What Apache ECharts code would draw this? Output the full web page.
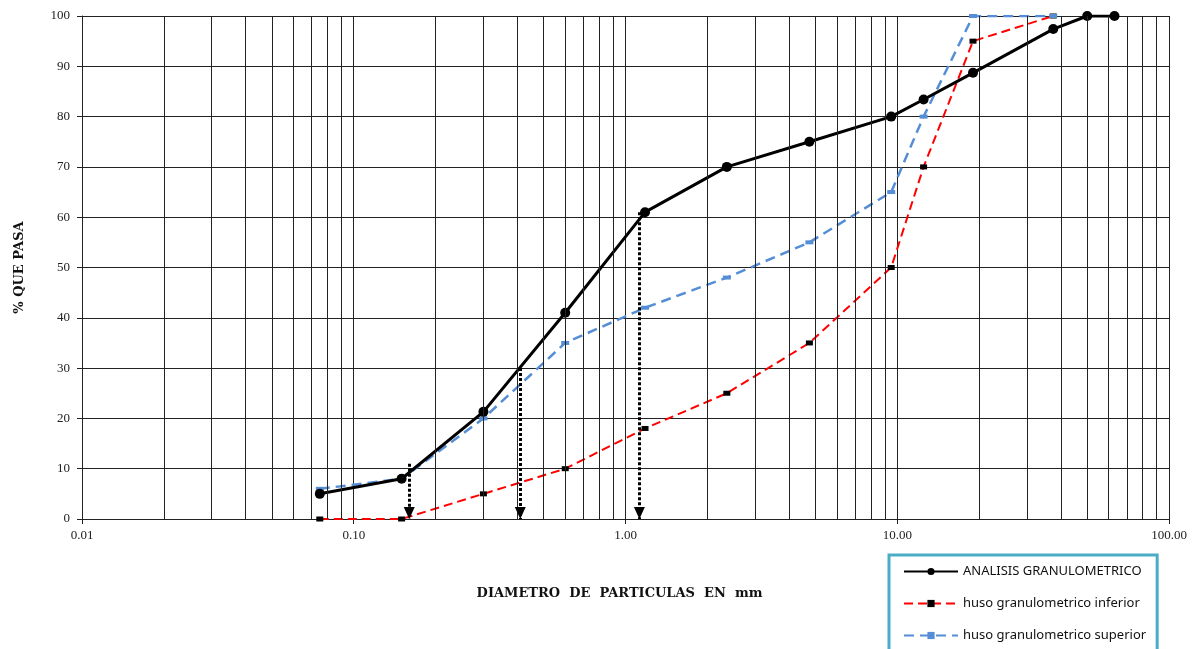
<!DOCTYPE html>
<html><head><meta charset="utf-8">
<script src="https://cdn.jsdelivr.net/npm/echarts@6/dist/echarts.min.js"></script>
<style>html,body{margin:0;padding:0;background:#fff}#c{width:1199px;height:649px}</style>
</head><body><div id="c"></div>
<script>
// ---- data ----
const sieveSizes = [0.075, 0.15, 0.3, 0.6, 1.18, 2.36, 4.75, 9.5, 12.5, 19, 37.5, 50, 63];
const passAnalysis = [5, 8, 21.3, 41, 61, 70, 75, 80, 83.4, 88.7, 97.4, 100, 100];
const limitSizes = [0.075, 0.15, 0.3, 0.6, 1.18, 2.36, 4.75, 9.5, 12.5, 19, 37.5];
const passLower = [0, 0, 5, 10, 18, 25, 35, 50, 70, 95, 100];
const passUpper = [6, 8, 20, 35, 42, 48, 55, 65, 80, 100, 100];
const minorGridX = [0.02,0.03,0.04,0.05,0.06,0.07,0.08,0.09,
                    0.2,0.3,0.4,0.5,0.6,0.7,0.8,0.9,
                    2,3,4,5,6,7,8,9,
                    20,30,40,50,60,70,80,90];
const xTickLabels = ['0.01', '0.10', '1.00', '10.00', '100.00'];
const dDiameters = [0.16, 0.41, 1.125];
const dPercents = [11, 30, 61];
const seriesNames = ['ANALISIS GRANULOMETRICO', 'huso granulometrico inferior', 'huso granulometrico superior'];

const chart = echarts.init(document.getElementById('c'), null, {renderer: 'canvas'});
const serif = 'Liberation Serif';
const gridColor = '#222';

const option = {
  animation: false,
  grid: {left: 82, right: 30, top: 16, bottom: 130, containLabel: false},
  legend: {
    orient: 'vertical',
    left: 889, top: 555, height: 140,
    data: seriesNames,
    borderColor: '#4BACC6', borderWidth: 3,
    padding: [10, 11, 40, 14],
    itemWidth: 54, itemHeight: 9, itemGap: 19,
    textStyle: {fontFamily: 'Noto Sans', fontSize: 13, color: '#111'}
  },
  xAxis: {
    type: 'log', logBase: 10, min: 0.01, max: 100,
    name: 'DIAMETRO  DE  PARTICULAS  EN  mm',
    nameLocation: 'middle', nameGap: 68,
    nameTextStyle: {fontFamily: 'DejaVu Serif', fontWeight: 'bold', fontSize: 13, color: '#111', padding: [0, 12, 0, 0]},
    axisLine: {show: true, lineStyle: {color: gridColor, width: 1}},
    axisTick: {show: true, length: 5, lineStyle: {color: gridColor}},
    axisLabel: {
      fontFamily: serif, fontSize: 13, color: '#222', margin: 10,
      formatter: v => xTickLabels[Math.round(Math.log10(v)) + 2]
    },
    splitLine: {show: true, lineStyle: {color: gridColor, width: 1}},
    minorTick: {show: false}, minorSplitLine: {show: false}
  },
  yAxis: {
    type: 'value', min: 0, max: 100, interval: 10,
    name: '% QUE PASA', nameLocation: 'middle', nameGap: 56, nameRotate: 90,
    nameTextStyle: {fontFamily: 'DejaVu Serif', fontWeight: 'bold', fontSize: 13, color: '#111'},
    axisLine: {show: true, lineStyle: {color: gridColor, width: 1}},
    axisTick: {show: true, length: 5, lineStyle: {color: gridColor}},
    axisLabel: {fontFamily: serif, fontSize: 13, color: '#222', margin: 12},
    splitLine: {show: true, lineStyle: {color: gridColor, width: 1}}
  },
  series: [
    {
      name: 'grid', type: 'line', data: [], silent: true, z: 1,
      markLine: {
        silent: true, symbol: ['none', 'none'], animation: false,
        label: {show: false},
        lineStyle: {color: gridColor, width: 1, type: 'solid'},
        emphasis: {disabled: true},
        data: minorGridX.map(v => ({xAxis: v}))
      }
    },
    {
      name: seriesNames[1], type: 'line', z: 3,
      data: limitSizes.map((s, i) => [s, passLower[i]]),
      symbol: 'rect', symbolSize: [7, 5],
      lineStyle: {color: '#FF0000', width: 2, type: [9, 5]},
      itemStyle: {color: '#000'}
    },
    {
      name: seriesNames[2], type: 'line', z: 3,
      data: limitSizes.map((s, i) => [s, passUpper[i]]),
      symbol: 'rect', symbolSize: [8, 4],
      lineStyle: {color: '#558ED5', width: 2.5, type: [10, 6]},
      itemStyle: {color: '#558ED5'}
    },
    {
      name: seriesNames[0], type: 'line', z: 4,
      data: sieveSizes.map((s, i) => [s, passAnalysis[i]]),
      symbol: 'circle', symbolSize: 10,
      lineStyle: {color: '#000', width: 3},
      itemStyle: {color: '#000'},
      markLine: {
        silent: true, animation: false,
        symbol: ['none', 'triangle'], symbolSize: [11, 12],
        symbolOffset: [[0, 0], [0, 6]],
        label: {show: false},
        lineStyle: {color: '#000', width: 3, type: [3, 2]},
        data: dDiameters.map((d, i) => [{coord: [d, dPercents[i]]}, {coord: [d, 0]}])
      }
    }
  ]
};
chart.setOption(option);
</script>
</body></html>
